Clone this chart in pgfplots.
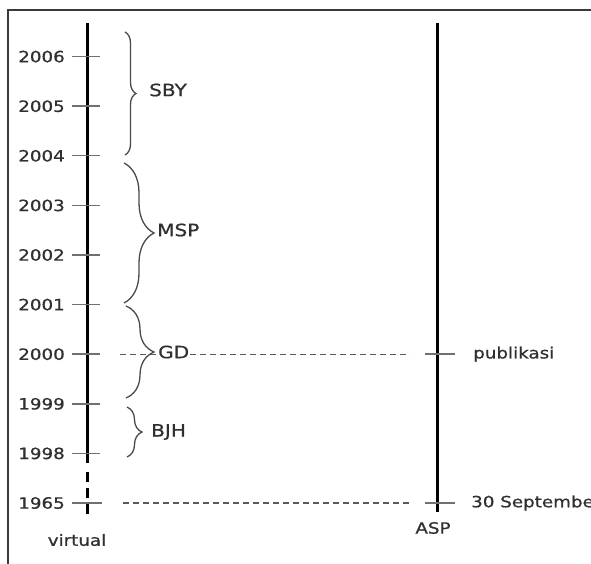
\documentclass[border=0pt]{standalone}
\usepackage{pgfplots}
\pgfplotsset{compat=1.18}
\usepackage{fontspec}
\setmainfont{DejaVu Sans}[FakeStretch=1.18, FakeBold=0.8]
\usetikzlibrary{decorations.pathreplacing}
\definecolor{txt}{HTML}{303030}
\definecolor{tickc}{HTML}{707070}
\definecolor{dashc}{HTML}{5A5A5A}
\definecolor{brc}{HTML}{4A4A4A}
\definecolor{framec}{HTML}{3A3A3A}
\begin{document}
\begin{tikzpicture}
\useasboundingbox (0,0) rectangle (591pt,563pt);
\clip (0,0) rectangle (591pt,563pt);
\begin{axis}[at={(0,0)}, anchor=south west, scale only axis,
  width=591pt, height=563pt, xmin=0, xmax=591, ymin=-1.2097, ymax=10.1411,
  hide axis, clip=false]
% frame
\addplot[framec, line width=1.4pt] coordinates {(8,-2) (8,9.940) (600,9.940)};
% left timeline
\addplot[black, line width=3pt] coordinates {(87,9.677) (87,0.806)};
\addplot[black, line width=3pt, dash pattern=on 10pt off 6pt] coordinates {(87,0.626) (87,-0.282)};
% right timeline
\addplot[black, line width=3pt] coordinates {(437,9.677) (437,-0.181)};
% left ticks
\addplot[tickc, line width=1.4pt] coordinates {(72,0) (102,0)};
\addplot[tickc, line width=1.4pt] coordinates {(72,1) (100,1)};
\addplot[tickc, line width=1.4pt] coordinates {(72,2) (100,2)};
\addplot[tickc, line width=1.4pt] coordinates {(72,3) (100,3)};
\addplot[tickc, line width=1.4pt] coordinates {(72,4) (100,4)};
\addplot[tickc, line width=1.4pt] coordinates {(72,5) (100,5)};
\addplot[tickc, line width=1.4pt] coordinates {(72,6) (100,6)};
\addplot[tickc, line width=1.4pt] coordinates {(72,7) (100,7)};
\addplot[tickc, line width=1.4pt] coordinates {(72,8) (100,8)};
\addplot[tickc, line width=1.4pt] coordinates {(72,9) (100,9)};
% right ticks
\addplot[tickc, line width=1.4pt] coordinates {(425,3) (455,3)};
\addplot[tickc, line width=1.4pt] coordinates {(425,0) (455,0)};
% dashed connectors
\addplot[dashc, line width=1.3pt, dash pattern=on 6pt off 4pt] coordinates {(120,3) (410,3)};
\addplot[dashc, line width=1.3pt, dash pattern=on 6pt off 4pt] coordinates {(123,0) (410,0)};
% braces
\addplot[brc, line width=1.3pt, decorate, decoration={brace, amplitude=11pt}] coordinates {(125,9.496) (125,7.016)};
\addplot[brc, line width=1.3pt, decorate, decoration={brace, amplitude=30pt}] coordinates {(124,6.855) (124,4.032)};
\addplot[brc, line width=1.3pt, decorate, decoration={brace, amplitude=28pt}] coordinates {(126,3.972) (126,2.117)};
\addplot[brc, line width=1.3pt, decorate, decoration={brace, amplitude=15pt}] coordinates {(127,1.935) (127,0.927)};
% year labels
\begin{scope}[every node/.style={font=\fontsize{15.5}{18}\selectfont, text=txt, inner sep=0pt}]
\node[anchor=east] at (axis cs:65,9) {2006};
\node[anchor=east] at (axis cs:65,8) {2005};
\node[anchor=east] at (axis cs:65,7) {2004};
\node[anchor=east] at (axis cs:65,6) {2003};
\node[anchor=east] at (axis cs:65,5) {2002};
\node[anchor=east] at (axis cs:65,4) {2001};
\node[anchor=east] at (axis cs:65,3) {2000};
\node[anchor=east] at (axis cs:65,2) {1999};
\node[anchor=east] at (axis cs:65,1) {1998};
\node[anchor=east] at (axis cs:65,0) {1965};
\node at (axis cs:77,-0.746) {virtual};
\node at (axis cs:433,-0.504) {ASP};
\node[anchor=west] at (axis cs:473,3) {publikasi};
\node[anchor=west] at (axis cs:471,0) {30 September};
\end{scope}
\begin{scope}[every node/.style={font=\fontsize{17}{20}\selectfont, text=txt, inner sep=0pt}]
\node[anchor=west] at (axis cs:149,8.327) {SBY};
\node[anchor=west] at (axis cs:157,5.504) {MSP};
\node[anchor=west, fill=white, inner xsep=1pt] at (axis cs:157,3.044) {GD};
\node[anchor=west] at (axis cs:151,1.431) {BJH};
\end{scope}
\end{axis}
\end{tikzpicture}
\end{document}
